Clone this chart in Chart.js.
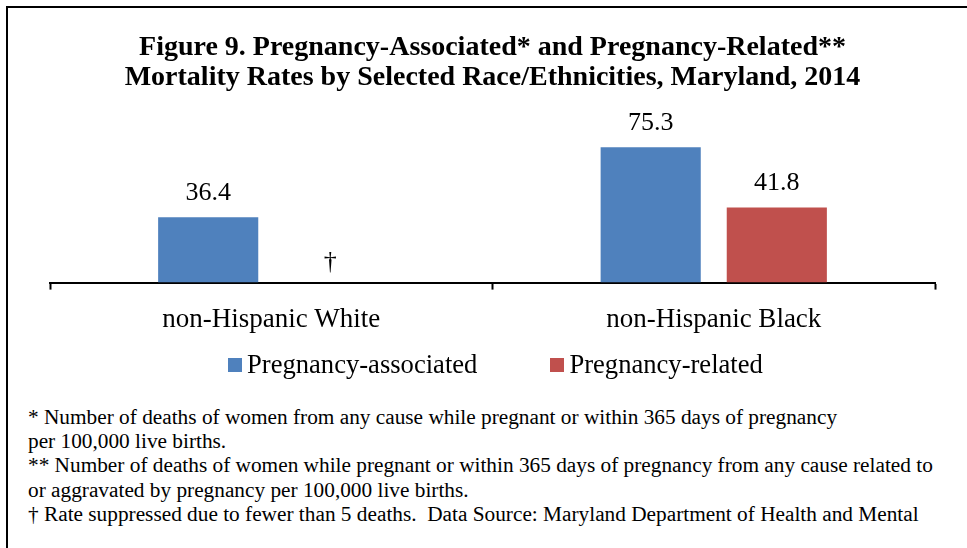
<!DOCTYPE html>
<html>
<head>
<meta charset="utf-8">
<title>Figure 9</title>
<script src="https://cdn.jsdelivr.net/npm/chart.js@4/dist/chart.umd.min.js"></script>
<style>
    html, body {
        margin: 0;
        padding: 0;
        width: 967px;
        height: 548px;
        overflow: hidden;
        background: #fff;
        font-family: 'Liberation Serif', 'Times New Roman', serif;
        color: #000;
    }
    .frame {
        position: absolute;
        left: 6px;
        top: 6px;
        width: 1000px;
        height: 1000px;
        border: 2px solid #000;
    }
    #chartBox {
        position: absolute;
        left: 0;
        top: 0;
    }
    .legend {
        position: absolute;
        left: 228px;
        top: 349px;
        display: flex;
        align-items: flex-start;
        font-size: 26.6px;
        line-height: 30px;
        white-space: nowrap;
    }
    .legend .swatch {
        width: 14px;
        height: 14px;
        margin-top: 9px;
        margin-right: 5px;
    }
    .legend .item {
        display: flex;
        align-items: flex-start;
        margin-right: 73px;
    }
    .notes {
        position: absolute;
        left: 28px;
        top: 405px;
        font-size: 21.3px;
        line-height: 24.2px;
        white-space: nowrap;
    }
</style>
</head>
<body>
<div class="frame"></div>
<canvas id="chartBox" width="967" height="350"></canvas>
<div class="legend" id="legend"></div>
<div class="notes">
    <div>* Number of deaths of women from any cause while pregnant or within 365 days of pregnancy</div>
    <div>per 100,000 live births.</div>
    <div>** Number of deaths of women while pregnant or within 365 days of pregnancy from any cause related to</div>
    <div>or aggravated by pregnancy per 100,000 live births.</div>
    <div>† Rate suppressed due to fewer than 5 deaths.&nbsp; Data Source: Maryland Department of Health and Mental</div>
</div>
<script>
// Chart data
const categories = ['non-Hispanic White', 'non-Hispanic Black'];
const seriesNames = ['Pregnancy-associated', 'Pregnancy-related'];
const associatedRates = [36.4, 75.3];
const relatedRates = [null, 41.8];
// true where the rate was suppressed (shown as a dagger)
const relatedSuppressed = [true, false];
const seriesColors = ['#4F81BD', '#C0504D'];
const titleLines = [
    'Figure 9. Pregnancy-Associated* and Pregnancy-Related**',
    'Mortality Rates by Selected Race/Ethnicities, Maryland, 2014'
];

const serif = "'Liberation Serif', 'Times New Roman', serif";

// Value labels above bars, dagger for suppressed rates
const valueLabels = {
    id: 'valueLabels',
    afterDatasetsDraw(chart) {
        const ctx = chart.ctx;
        const yScale = chart.scales.y;
        ctx.save();
        ctx.fillStyle = '#000';
        ctx.font = '26px ' + serif;
        ctx.textAlign = 'center';
        ctx.textBaseline = 'alphabetic';
        chart.data.datasets.forEach((ds, di) => {
            const meta = chart.getDatasetMeta(di);
            meta.data.forEach((bar, i) => {
                const v = ds.data[i];
                if (v !== null && v !== undefined) {
                    ctx.fillText(v.toFixed(1), bar.x, bar.y - 17);
                } else if (di === 1 && relatedSuppressed[i]) {
                    ctx.fillText('†', bar.x - 4, yScale.getPixelForValue(0) - 14);
                }
            });
        });
        ctx.restore();
    }
};

new Chart(document.getElementById('chartBox'), {
    type: 'bar',
    data: {
        labels: categories,
        datasets: [
            {
                label: seriesNames[0],
                data: associatedRates,
                backgroundColor: seriesColors[0],
                categoryPercentage: 0.57,
                barPercentage: 0.794
            },
            {
                label: seriesNames[1],
                data: relatedRates,
                backgroundColor: seriesColors[1],
                categoryPercentage: 0.57,
                barPercentage: 0.794
            }
        ]
    },
    options: {
        responsive: false,
        animation: false,
        layout: {
            padding: { left: 50, right: 32, top: 0, bottom: 0 }
        },
        scales: {
            x: {
                grid: {
                    display: true,
                    drawOnChartArea: false,
                    tickLength: 7,
                    tickColor: '#000',
                    tickWidth: 2,
                    offset: true
                },
                border: { display: true, color: '#000', width: 2 },
                ticks: {
                    color: '#000',
                    padding: 14,
                    font: { family: serif, size: 27 }
                }
            },
            y: {
                display: false,
                min: 0,
                max: 100
            }
        },
        plugins: {
            legend: { display: false },
            tooltip: { enabled: false },
            title: {
                display: true,
                text: titleLines,
                color: '#000',
                font: { family: serif, size: 28, weight: 'bold', lineHeight: 1.07 },
                padding: { top: 33, bottom: 10 }
            }
        }
    },
    plugins: [valueLabels]
});

// HTML legend
const legendEl = document.getElementById('legend');
seriesNames.forEach((name, i) => {
    const item = document.createElement('div');
    item.className = 'item';
    item.innerHTML = `<div class="swatch" style="background:${seriesColors[i]}"></div><span>${name}</span>`;
    legendEl.appendChild(item);
});
</script>
</body>
</html>
